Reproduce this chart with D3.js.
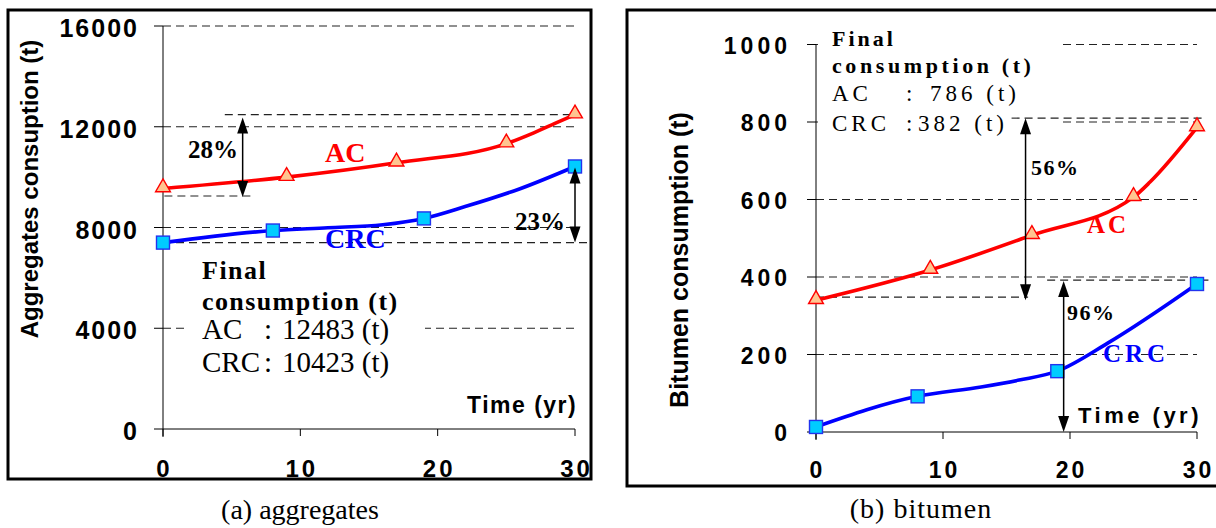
<!DOCTYPE html>
<html><head><meta charset="utf-8">
<script src="https://cdn.jsdelivr.net/npm/d3@7"></script>
<style>body{margin:0;background:#fff}svg{display:block}</style>
</head><body><svg id="c" width="1216" height="528"></svg>
<script>
// ---------- data ----------
const timeTicks = [0, 10, 20, 30];
const aggTicks = [0, 4000, 8000, 12000, 16000];
const bitTicks = [0, 200, 400, 600, 800, 1000];

const aggACYears = [0, 9, 17, 25, 27, 28.5, 30];
const aggACValues = [9550, 10000, 10570, 11330, 11760, 12120, 12483];
const aggACMarkers = [0, 9, 17, 25, 30];
const aggCRCYears = [0, 8, 12, 16, 19, 22, 26, 30];
const aggCRCValues = [7400, 7880, 7990, 8110, 8360, 8830, 9540, 10423];
const aggCRCMarkers = [0, 8, 19, 30];

const bitACYears = [0, 9, 17, 25, 26.3, 30];
const bitACValues = [340, 418, 508, 606, 645, 786];
const bitACMarkers = [0, 9, 17, 25, 30];
const bitCRCYears = [0, 8, 13, 16, 19, 23, 30];
const bitCRCValues = [13, 92, 116, 134, 157, 230, 382];
const bitCRCMarkers = [0, 8, 19, 30];

const aggFinal = ["12483 (t)", "10423 (t)"];
const bitFinal = ["786 (t)", "382 (t)"];
const aggPct = ["28%", "23%"];
const bitPct = ["56%", "96%"];

// ---------- helpers ----------
const SERIF = "'Liberation Serif','Times New Roman',serif";
const SANS = "'Liberation Sans',Arial,sans-serif";
const svg = d3.select("#c");
const RED = "#ff0000", BLUE = "#0000ff";

function txt(g, x, y, s, o) {
  o = o || {};
  const t = g.append("text").attr("x", x).attr("y", y).text(s)
    .attr("font-family", o.family || SERIF)
    .attr("font-size", o.size || 20)
    .attr("font-weight", o.bold ? "bold" : "normal")
    .attr("fill", o.fill || "#000")
    .attr("text-anchor", o.anchor || "start");
  if (o.ls) t.attr("letter-spacing", o.ls);
  if (o.transform) t.attr("transform", o.transform);
  return t;
}
function dashed(g, x1, x2, y) {
  g.append("line").attr("x1", x1).attr("x2", x2).attr("y1", y).attr("y2", y)
    .attr("stroke", "#222").attr("stroke-width", 1.1).attr("stroke-dasharray", "8,5");
}
function arrow(g, x, y1, y2) {
  const top = Math.min(y1, y2), bot = Math.max(y1, y2);
  g.append("line").attr("x1", x).attr("x2", x).attr("y1", top + 8).attr("y2", bot - 8)
    .attr("stroke", "#000").attr("stroke-width", 1.5);
  const L = 16, W = 5.5;
  g.append("path").attr("d", `M${x},${top} L${x - W},${top + L} L${x + W},${top + L} Z`).attr("fill", "#000");
  g.append("path").attr("d", `M${x},${bot} L${x - W},${bot - L} L${x + W},${bot - L} Z`).attr("fill", "#000");
}

function drawSeries(g, x, y, years, values, markers, color, kind) {
  const pts = years.map((t, i) => [t, values[i]]);
  const line = d3.line().x(d => x(d[0])).y(d => y(d[1])).curve(d3.curveMonotoneX);
  g.append("path").attr("d", line(pts)).attr("fill", "none")
    .attr("stroke", color).attr("stroke-width", 3.6).attr("stroke-linejoin", "round");
  const mk = pts.filter(d => markers.includes(d[0]));
  if (kind === "tri") {
    const sym = d3.symbol().type(d3.symbolTriangle).size(95);
    g.selectAll(null).data(mk).enter().append("path")
      .attr("d", sym).attr("transform", d => `translate(${x(d[0])},${y(d[1]) - 1})`)
      .attr("fill", "#ffc590").attr("stroke", RED).attr("stroke-width", 1.4);
  } else {
    g.selectAll(null).data(mk).enter().append("rect")
      .attr("x", d => x(d[0]) - 6.5).attr("y", d => y(d[1]) - 6.5)
      .attr("width", 13).attr("height", 13)
      .attr("fill", "#00ccff").attr("stroke", "#2233ee").attr("stroke-width", 1.4);
  }
}

function axes(g, x, y, yTicks, yFmt, o) {
  const x0 = x(0), y0 = y(0);
  // gridlines (dashed) except 0
  yTicks.filter(v => v !== 0).forEach(v => dashed(g, x0, x(30), y(v)));
  // white boxes
  (o.boxes || []).forEach(b => g.append("rect").attr("x", b[0]).attr("y", b[1])
    .attr("width", b[2]).attr("height", b[3]).attr("fill", "#fff"));
  // y axis
  g.append("line").attr("x1", x0).attr("x2", x0).attr("y1", y(yTicks[yTicks.length - 1])).attr("y2", y0 + 8)
    .attr("stroke", "#000").attr("stroke-width", 1);
  yTicks.forEach(v => {
    g.append("line").attr("x1", x0 - 9).attr("x2", x0).attr("y1", y(v)).attr("y2", y(v))
      .attr("stroke", "#000").attr("stroke-width", 1);
    txt(g, o.yLabelX, y(v) + o.yLabelDy, yFmt(v), { family: SANS, size: o.yLabelSize, bold: true, anchor: "end", ls: o.yLabelLs });
  });
  // x axis
  g.append("line").attr("x1", x0).attr("x2", x(30)).attr("y1", y0).attr("y2", y0)
    .attr("stroke", "#000").attr("stroke-width", 1);
  timeTicks.forEach(t => {
    g.append("line").attr("x1", x(t)).attr("x2", x(t)).attr("y1", y0).attr("y2", y0 + 7)
      .attr("stroke", "#000").attr("stroke-width", 1);
    txt(g, x(t) + o.xLabelLs / 2, o.xLabelY, String(t), { family: SANS, size: o.xLabelSize, bold: true, anchor: "middle", ls: o.xLabelLs });
  });
}

// ---------- panel (a) ----------
{
  const g = svg.append("g");
  const x = d3.scaleLinear().domain([0, 30]).range([163, 575]);
  const y = d3.scaleLinear().domain([0, 16000]).range([429, 26]);
  g.append("rect").attr("x", 8).attr("y", 10).attr("width", 583).attr("height", 469)
    .attr("fill", "none").attr("stroke", "#000").attr("stroke-width", 3);
  axes(g, x, y, aggTicks, d => String(d), {
    boxes: [[186, 256, 239, 128]],
    yLabelX: 139, yLabelDy: 11, yLabelSize: 25, yLabelLs: 2,
    xLabelY: 477, xLabelSize: 24, xLabelLs: 3
  });
  // reference dashed lines
  dashed(g, x(4.5), x(30.1), y(aggACValues[aggACValues.length - 1]));
  dashed(g, x(0.1), x(6.6), y(9250));
  dashed(g, x(0), 590, y(aggCRCValues[0]));
  drawSeries(g, x, y, aggACYears, aggACValues, aggACMarkers, RED, "tri");
  drawSeries(g, x, y, aggCRCYears, aggCRCValues, aggCRCMarkers, BLUE, "sq");
  arrow(g, x(5.8), y(aggACValues[aggACValues.length - 1]) + 3, y(9250) + 1);
  arrow(g, x(30), y(aggCRCValues[aggCRCValues.length - 1]) + 1, y(aggCRCValues[0]));
  txt(g, 188, 158, aggPct[0], { size: 25, bold: true });
  txt(g, 565, 230, aggPct[1], { size: 25, bold: true, anchor: "end" });
  txt(g, 325, 162, "AC", { size: 28, bold: true, fill: RED });
  txt(g, 325, 248, "CRC", { size: 28, bold: true, fill: BLUE });
  txt(g, 202, 279, "Final", { size: 26, bold: true, ls: 1.5 });
  txt(g, 202, 310, "consumption (t)", { size: 26, bold: true, ls: 1.4 });
  txt(g, 202, 339, "AC", { size: 29 });
  txt(g, 264, 339, ":", { size: 29 });
  txt(g, 282, 339, aggFinal[0], { size: 29 });
  txt(g, 202, 372, "CRC", { size: 29 });
  txt(g, 264, 372, ":", { size: 29 });
  txt(g, 282, 372, aggFinal[1], { size: 29 });
  txt(g, 467, 413, "Time (yr)", { family: SANS, size: 23, bold: true, ls: 1.5 });
  txt(g, 0, 0, "Aggregates consuption (t)", { family: SANS, size: 24, bold: true, anchor: "middle", transform: "translate(38,189) rotate(-90)" });
  txt(g, 300, 519, "(a) aggregates", { size: 28, anchor: "middle" });
}

// ---------- panel (b) ----------
{
  const g = svg.append("g");
  const x = d3.scaleLinear().domain([0, 30]).range([816, 1197]);
  const y = d3.scaleLinear().domain([0, 1000]).range([432, 44.5]);
  g.append("rect").attr("x", 627).attr("y", 10).attr("width", 592).attr("height", 476)
    .attr("fill", "none").attr("stroke", "#000").attr("stroke-width", 3);
  axes(g, x, y, bitTicks, d => String(d), {
    boxes: [[818, 22, 242, 116]],
    yLabelX: 791, yLabelDy: 9, yLabelSize: 23, yLabelLs: 4,
    xLabelY: 478, xLabelSize: 23, xLabelLs: 3
  });
  dashed(g, x(15.4), x(30.6), y(810));
  dashed(g, x(0), x(16.7), y(348));
  dashed(g, x(18.2), x(30.9), y(392));
  drawSeries(g, x, y, bitACYears, bitACValues, bitACMarkers, RED, "tri");
  drawSeries(g, x, y, bitCRCYears, bitCRCValues, bitCRCMarkers, BLUE, "sq");
  arrow(g, x(16.5), y(810), y(340));
  arrow(g, x(19.5), y(392) + 1, y(0));
  txt(g, 1031, 175, bitPct[0], { size: 22, bold: true, ls: 1.5 });
  txt(g, 1067, 320, bitPct[1], { size: 22, bold: true, ls: 1.5 });
  txt(g, 1087, 233, "AC", { size: 25, bold: true, fill: RED, ls: 3 });
  txt(g, 1103, 362, "CRC", { size: 25, bold: true, fill: BLUE, ls: 4 });
  txt(g, 832, 46, "Final", { size: 22, bold: true, ls: 3 });
  txt(g, 832, 73, "consumption (t)", { size: 22, bold: true, ls: 3.6 });
  txt(g, 832, 101, "AC", { size: 23, ls: 4 });
  txt(g, 906, 101, ":", { size: 23 });
  txt(g, 930, 101, bitFinal[0], { size: 23, ls: 4 });
  txt(g, 832, 131, "CRC", { size: 23, ls: 4 });
  txt(g, 906, 131, ":", { size: 23 });
  txt(g, 918, 131, bitFinal[1], { size: 23, ls: 4 });
  txt(g, 1078, 423, "Time (yr)", { family: SANS, size: 22, bold: true, ls: 3.5 });
  txt(g, 0, 0, "Bitumen consumption (t)", { family: SANS, size: 25, bold: true, anchor: "middle", transform: "translate(688,260) rotate(-90)" });
  txt(g, 921, 518, "(b) bitumen", { size: 28, anchor: "middle", ls: 1 });
}
</script></body></html>
